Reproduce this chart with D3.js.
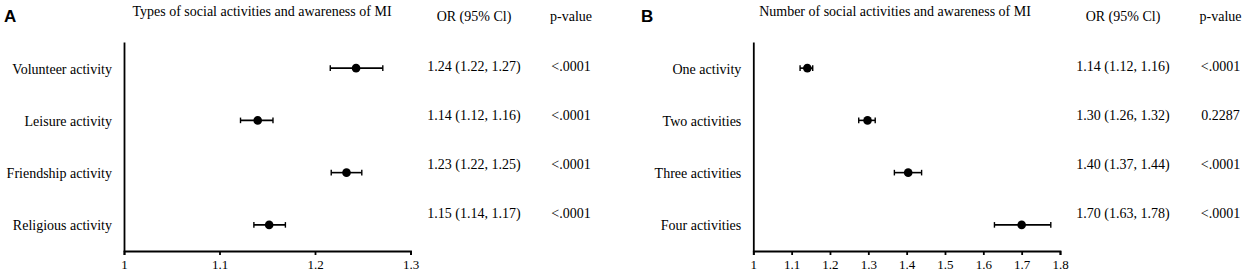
<!DOCTYPE html>
<html lang="en">
<head>
<meta charset="UTF-8">
<script src="https://d3js.org/d3.v7.min.js"></script>
<style>
  body { margin: 0; background: #fff; }
  svg { display: block; font-family: "Liberation Serif", "Times New Roman", serif; }
  .axis path, .axis line { stroke: #000; stroke-width: 1.8; }
  .axis text { font-family: "Liberation Serif", serif; font-size: 13px; fill: #000; }
  .ylab text { font-size: 14px; }
  .panel-letter { font-family: "Liberation Sans", Arial, sans-serif; font-weight: bold; font-size: 17px; }
  .title, .head, .cell { font-size: 14px; fill: #000; }
</style>
</head>
<body>
<svg class="chart" width="1248" height="275"></svg>
<script>

// panel A: types of social activities
const typeLabels = ["Volunteer activity", "Leisure activity", "Friendship activity", "Religious activity"];
const typeOR  = [1.243, 1.140, 1.233, 1.152];
const typeLo  = [1.216, 1.122, 1.217, 1.136];
const typeHi  = [1.271, 1.156, 1.249, 1.169];
const typeCI  = ["1.24 (1.22, 1.27)", "1.14 (1.12, 1.16)", "1.23 (1.22, 1.25)", "1.15 (1.14, 1.17)"];
const typeP   = ["<.0001", "<.0001", "<.0001", "<.0001"];
const typeTicks = [1, 1.1, 1.2, 1.3];

// panel B: number of social activities
const numLabels = ["One activity", "Two activities", "Three activities", "Four activities"];
const numOR  = [1.141, 1.298, 1.404, 1.700];
const numLo  = [1.122, 1.275, 1.368, 1.629];
const numHi  = [1.155, 1.318, 1.439, 1.776];
const numCI  = ["1.14 (1.12, 1.16)", "1.30 (1.26, 1.32)", "1.40 (1.37, 1.44)", "1.70 (1.63, 1.78)"];
const numP   = ["<.0001", "0.2287", "<.0001", "<.0001"];
const numTicks = [1, 1.1, 1.2, 1.3, 1.4, 1.5, 1.6, 1.7, 1.8];

const svg = d3.select(".chart");

const plotTop = 42, plotBottom = 251;

function panel(opt) {
  const x = d3.scaleLinear().domain(opt.domain).range(opt.xRange);
  const y = d3.scalePoint().domain(opt.labels).range([plotTop, plotBottom]).padding(0.5);
  const rowY = d3.scalePoint().domain(opt.labels).range([plotTop, 238]).padding(0.5);
  const g = svg.append("g");

  g.append("text").attr("class", "panel-letter")
      .attr("x", opt.letterX).attr("y", 22).text(opt.letter);

  g.append("text").attr("class", "title")
      .attr("x", opt.titleX).attr("y", 16)
      .attr("text-anchor", "middle").text(opt.title);

  // x axis
  g.append("g")
      .attr("class", "axis")
      .attr("transform", `translate(0,${plotBottom})`)
      .call(d3.axisBottom(x).tickValues(opt.ticks).tickFormat(d3.format("")).tickSize(4).tickPadding(5));

  // y axis with row labels
  g.append("g")
      .attr("class", "axis ylab")
      .attr("transform", `translate(${opt.xRange[0]},0)`)
      .call(d3.axisLeft(y).tickSize(0).tickPadding(12))
    .selectAll("text").attr("dy", "0.35em");

  const rows = opt.labels.map((l, i) => ({label: l, or: opt.or[i], lo: opt.lo[i], hi: opt.hi[i], ci: opt.ci[i], p: opt.p[i]}));

  const marks = g.append("g").selectAll("g")
    .data(rows)
    .join("g")
      .attr("transform", d => `translate(0,${y(d.label)})`);

  marks.append("line")
      .attr("x1", d => x(d.lo)).attr("x2", d => x(d.hi))
      .attr("stroke", "#000").attr("stroke-width", 1.6);
  marks.append("line")
      .attr("x1", d => x(d.lo)).attr("x2", d => x(d.lo))
      .attr("y1", -2.8).attr("y2", 2.8)
      .attr("stroke", "#000").attr("stroke-width", 1.4);
  marks.append("line")
      .attr("x1", d => x(d.hi)).attr("x2", d => x(d.hi))
      .attr("y1", -2.8).attr("y2", 2.8)
      .attr("stroke", "#000").attr("stroke-width", 1.4);
  marks.append("circle")
      .attr("cx", d => x(d.or)).attr("r", 4.3).attr("fill", "#000");

  // table
  g.append("text").attr("class", "head")
      .attr("x", opt.ciX).attr("y", 21).attr("text-anchor", "middle").text("OR (95% Cl)");
  g.append("text").attr("class", "head")
      .attr("x", opt.pX).attr("y", 21).attr("text-anchor", "middle").text("p-value");

  g.append("g").selectAll("text.ci")
    .data(rows)
    .join("text")
      .attr("class", "cell")
      .attr("x", opt.ciX).attr("y", d => rowY(d.label))
      .attr("dy", "0.35em").attr("text-anchor", "middle")
      .text(d => d.ci);
  g.append("g").selectAll("text.p")
    .data(rows)
    .join("text")
      .attr("class", "cell")
      .attr("x", opt.pX).attr("y", d => rowY(d.label))
      .attr("dy", "0.35em").attr("text-anchor", "middle")
      .text(d => d.p);
}

panel({
  letter: "A", letterX: 4,
  title: "Types of social activities and awareness of MI", titleX: 262,
  labels: typeLabels, or: typeOR, lo: typeLo, hi: typeHi, ci: typeCI, p: typeP,
  domain: [1, 1.3], xRange: [124, 410.5], ticks: typeTicks,
  ciX: 474, pX: 571
});

panel({
  letter: "B", letterX: 641,
  title: "Number of social activities and awareness of MI", titleX: 895,
  labels: numLabels, or: numOR, lo: numLo, hi: numHi, ci: numCI, p: numP,
  domain: [1, 1.8], xRange: [753.3, 1060], ticks: numTicks,
  ciX: 1123, pX: 1220.5
});

</script>
</body>
</html>
